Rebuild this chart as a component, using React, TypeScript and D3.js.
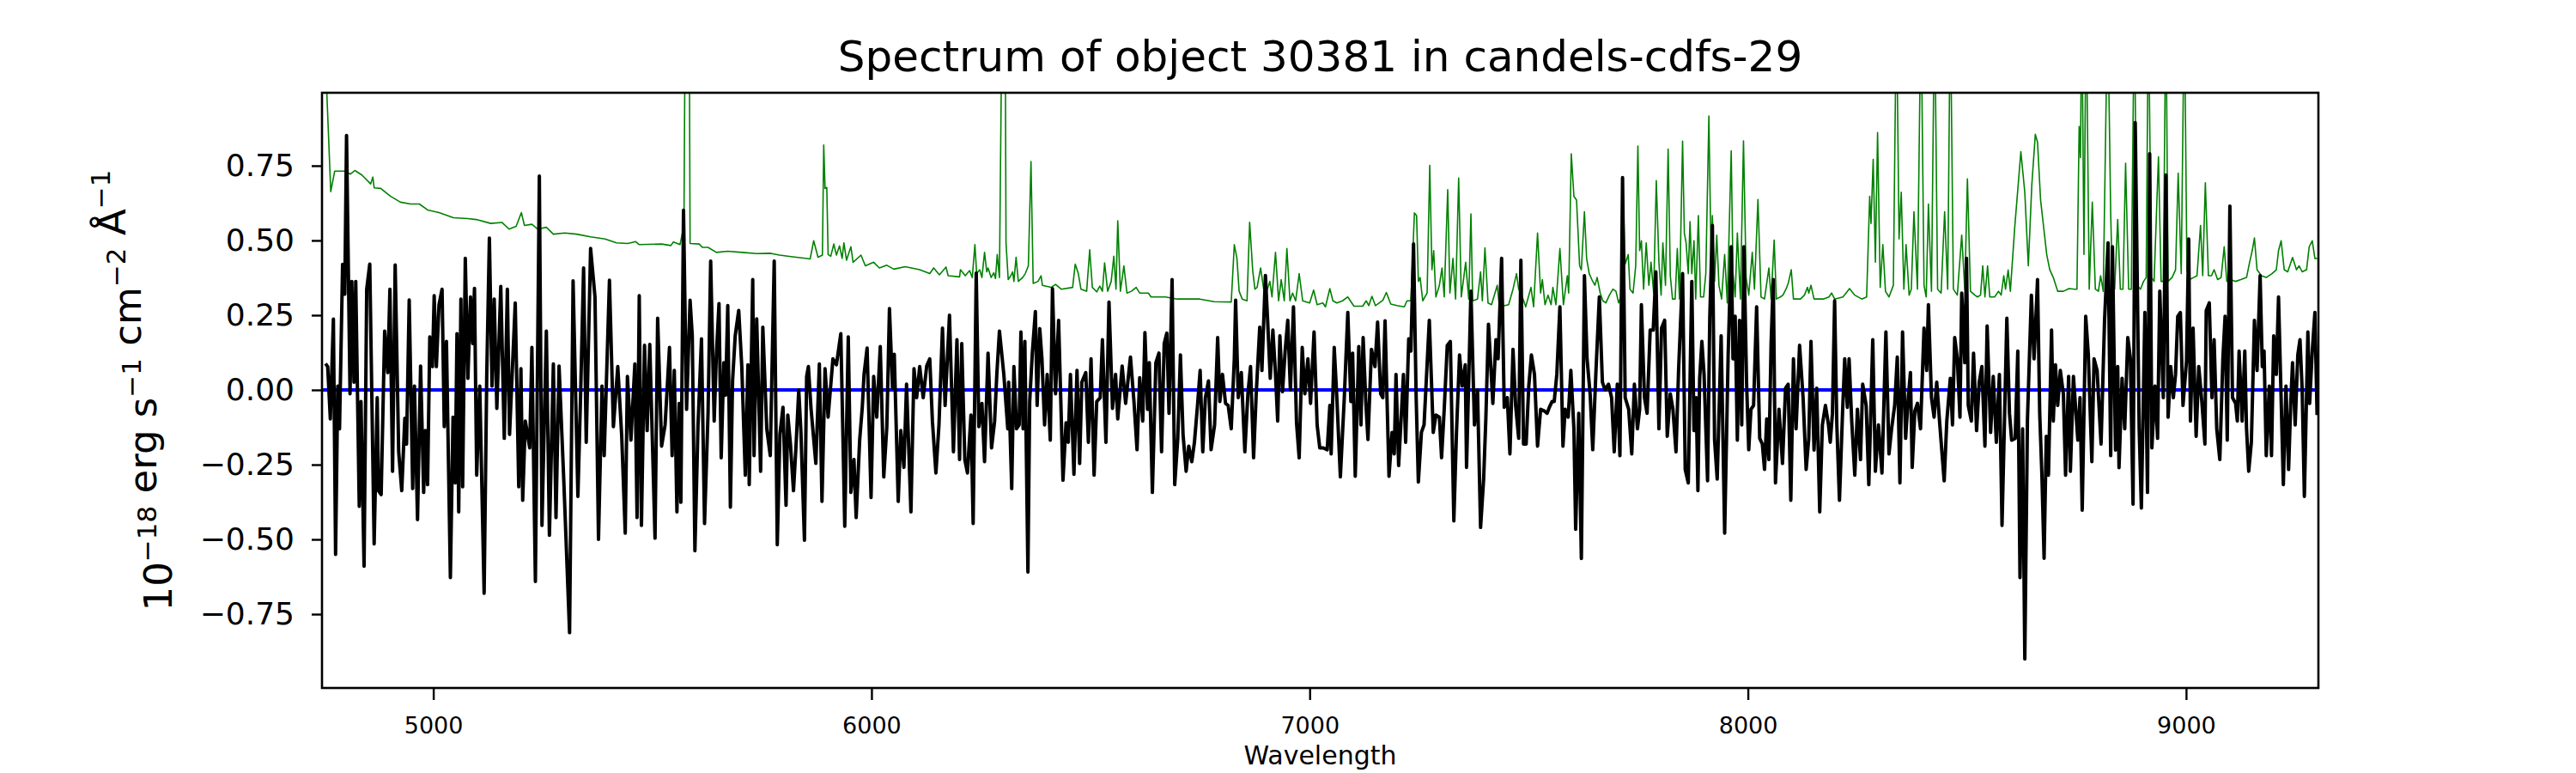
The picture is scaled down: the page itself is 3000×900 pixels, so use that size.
import { useEffect, useRef } from "react";
import * as d3 from "d3";

const TITLE = "Spectrum of object 30381 in candels-cdfs-29";
const X_LABEL = "Wavelength";
const xTicks = [5000, 6000, 7000, 8000, 9000];
const yTicks = [-0.75, -0.5, -0.25, 0, 0.25, 0.5, 0.75];
const xLimits: [number, number] = [4746, 9302];
const yLimits: [number, number] = [-0.997, 0.994];
const zeroLevel = 0;

// observed flux: [wavelength (Å), flux (1e-18 erg/s/cm2/Å)]
const flux: [number, number][] = [
  [4754,0.088],[4759,0.078],[4765,-0.097],[4772,0.237],[4777,-0.55],[4782,0.013],[4786,-0.13],[4793,0.42],
  [4798,0.32],[4802,0.851],[4810,-0.013],[4814,0.363],[4819,0.026],[4823,0.363],[4831,-0.389],[4835,-0.039],
  [4842,-0.59],[4848,0.337],[4855,0.421],[4865,-0.515],[4872,-0.026],[4875,-0.337],[4881,-0.35],[4889,0.197],
  [4896,0.058],[4901,0.337],[4907,-0.272],[4913,0.418],[4921,-0.207],[4928,-0.337],[4935,-0.095],[4939,-0.181],
  [4945,0.301],[4953,-0.33],[4957,0.013],[4964,-0.434],[4971,0.08],[4978,-0.343],[4982,-0.136],[4987,-0.317],
  [4992,0.177],[4998,0.078],[5002,0.315],[5007,0.078],[5013,0.285],[5020,0.337],[5025,-0.123],[5030,0.162],
  [5039,-0.628],[5045,-0.091],[5050,-0.311],[5054,0.188],[5058,-0.408],[5063,0.304],[5067,-0.324],[5073,0.44],
  [5079,0.039],[5085,0.311],[5090,0.155],[5094,0.34],[5099,-0.285],[5106,0.013],[5116,-0.68],[5122,0.052],
  [5128,0.508],[5134,0.013],[5139,0.304],[5145,-0.062],[5154,0.346],[5162,-0.162],[5169,0.337],[5174,-0.149],
  [5187,0.291],[5195,-0.324],[5200,0.071],[5204,-0.369],[5210,-0.104],[5220,-0.194],[5225,0.142],[5233,-0.641],
  [5242,0.715],[5248,-0.453],[5258,0.197],[5265,-0.486],[5274,0.087],[5280,-0.427],[5287,0.08],[5298,-0.311],
  [5311,-0.812],[5319,0.365],[5330,-0.356],[5336,-0.026],[5343,0.408],[5349,-0.175],[5359,0.473],[5369,0.311],
  [5377,-0.5],[5385,0.013],[5390,-0.22],[5402,0.367],[5411,-0.123],[5421,0.078],[5430,-0.155],[5438,-0.479],
  [5443,0.045],[5451,-0.168],[5460,0.087],[5465,-0.427],[5470,0.315],[5475,-0.453],[5482,0.149],[5488,-0.136],
  [5494,0.152],[5506,-0.496],[5512,0.24],[5521,-0.188],[5529,-0.117],[5539,0.142],[5545,-0.22],[5550,0.065],
  [5556,-0.408],[5561,-0.045],[5565,-0.376],[5571,0.601],[5578,-0.065],[5586,0.3],[5591,0.181],[5597,-0.538],
  [5604,-0.123],[5612,0.171],[5619,-0.447],[5627,-0.078],[5633,0.431],[5641,-0.104],[5646,0.117],[5652,0.289],
  [5657,-0.227],[5663,0.091],[5667,-0.017],[5672,0.282],[5678,-0.392],[5683,0.032],[5689,0.181],[5697,0.266],
  [5704,0.078],[5712,-0.285],[5718,0.084],[5721,-0.317],[5729,0.369],[5732,-0.22],[5738,0.238],[5747,-0.272],
  [5752,0.21],[5761,-0.13],[5769,-0.22],[5778,0.431],[5785,-0.518],[5791,-0.149],[5798,-0.058],[5805,-0.386],
  [5809,-0.084],[5815,-0.181],[5822,-0.337],[5828,-0.181],[5834,0],[5839,-0.142],[5847,-0.503],[5852,0.045],
  [5856,0.078],[5862,-0.062],[5873,-0.246],[5881,0.087],[5887,-0.373],[5894,0.071],[5901,-0.091],[5912,0.104],
  [5920,0.084],[5930,0.188],[5939,-0.456],[5947,0.177],[5953,-0.343],[5960,-0.233],[5965,-0.427],[5973,-0.168],
  [5979,-0.058],[5983,0.052],[5990,0.14],[5999,-0.36],[6005,0.045],[6012,-0.091],[6020,0.145],[6028,-0.291],
  [6035,-0.123],[6041,0.272],[6048,0.006],[6052,0.119],[6061,-0.373],[6067,-0.136],[6074,-0.259],[6080,0.019],
  [6090,-0.408],[6097,0.071],[6103,-0.026],[6110,0.078],[6118,-0.026],[6126,0.08],[6133,0.104],[6139,-0.104],
  [6147,-0.278],[6154,-0.117],[6162,0.207],[6168,-0.052],[6178,0.25],[6187,-0.207],[6195,0.168],[6201,-0.233],
  [6206,0.155],[6213,-0.233],[6219,-0.278],[6227,-0.084],[6232,-0.447],[6239,0.391],[6245,-0.123],[6252,-0.045],
  [6258,-0.24],[6266,0.123],[6274,-0.194],[6281,-0.104],[6286,0.052],[6292,0.197],[6302,0.052],[6311,-0.13],
  [6313,0.026],[6320,-0.33],[6325,0.078],[6331,-0.13],[6337,-0.117],[6341,0.194],[6346,-0.13],[6350,0.162],
  [6357,-0.609],[6361,-0.039],[6367,0.123],[6374,0.262],[6378,-0.052],[6384,0.205],[6389,0.104],[6395,-0.117],
  [6401,0.052],[6408,-0.168],[6413,0.339],[6420,-0.013],[6427,0.233],[6437,-0.302],[6444,-0.11],[6449,-0.175],
  [6454,0.052],[6462,-0.282],[6469,0.065],[6475,-0.246],[6480,0.026],[6489,0.058],[6495,-0.175],[6501,0.104],
  [6508,-0.285],[6514,-0.039],[6522,-0.026],[6527,0.168],[6535,-0.175],[6542,0.294],[6550,-0.062],[6557,0.052],
  [6562,-0.097],[6572,0.08],[6580,-0.045],[6586,0.041],[6591,0.11],[6599,-0.039],[6606,-0.2],[6612,0.041],
  [6619,-0.104],[6624,0.192],[6630,-0.065],[6634,0.091],[6641,-0.343],[6649,0.091],[6656,0.123],[6662,-0.207],
  [6668,0.155],[6674,0.19],[6679,-0.078],[6686,0.369],[6692,-0.317],[6699,-0.162],[6705,0.117],[6711,-0.149],
  [6718,-0.272],[6724,-0.188],[6731,-0.24],[6737,-0.175],[6744,-0.052],[6750,0.065],[6756,-0.207],[6762,-0.026],
  [6769,0.03],[6775,-0.2],[6783,-0.117],[6790,0.175],[6795,-0.039],[6801,0.052],[6808,-0.045],[6814,-0.052],
  [6821,-0.13],[6828,0.104],[6831,0.3],[6837,-0.026],[6844,0.058],[6852,-0.207],[6859,-0.013],[6865,0.078],
  [6872,-0.227],[6878,-0.013],[6886,0.21],[6891,0.065],[6899,0.383],[6904,0.233],[6910,0.039],[6916,0.2],
  [6922,0.052],[6927,-0.104],[6932,0.181],[6938,-0.006],[6944,0.13],[6950,0.233],[6956,0],[6963,0.278],
  [6970,-0.11],[6976,-0.227],[6983,0.142],[6989,-0.013],[6996,0.104],[7002,-0.045],[7010,0.194],[7017,-0.117],
  [7023,-0.194],[7031,-0.194],[7040,-0.2],[7046,-0.052],[7049,-0.214],[7056,0.142],[7062,-0.026],[7070,-0.291],
  [7079,-0.026],[7087,0.259],[7094,-0.039],[7098,0.123],[7104,-0.289],[7112,0.145],[7117,-0.117],[7122,0.175],
  [7128,-0.039],[7133,-0.166],[7141,0.136],[7149,0.078],[7155,0.227],[7162,-0.013],[7167,-0.026],[7172,0.231],
  [7181,-0.289],[7188,-0.142],[7193,-0.214],[7197,0.052],[7203,-0.253],[7207,-0.142],[7214,0.052],[7219,-0.175],
  [7226,0.171],[7231,0.13],[7237,0.488],[7243,-0.026],[7248,-0.308],[7255,-0.142],[7261,-0.117],[7273,0.233],
  [7282,-0.142],[7288,-0.084],[7296,-0.091],[7301,-0.227],[7307,-0.065],[7314,0.149],[7321,0.162],[7329,-0.438],
  [7335,-0.142],[7342,0.117],[7348,0.013],[7355,0.084],[7358,-0.259],[7368,0.33],[7376,-0.117],[7383,0],
  [7390,-0.46],[7397,-0.298],[7402,-0.097],[7408,0.22],[7418,-0.045],[7425,0.168],[7430,0.104],[7438,0.44],
  [7444,-0.058],[7451,-0.026],[7457,-0.214],[7464,0.136],[7470,-0.052],[7477,-0.162],[7482,0.434],[7488,-0.181],
  [7494,-0.181],[7500,0.013],[7506,0.117],[7513,0.052],[7520,-0.188],[7527,-0.065],[7536,-0.071],[7542,-0.078],
  [7547,-0.058],[7553,-0.039],[7558,-0.039],[7564,0.052],[7571,0.278],[7578,-0.188],[7583,-0.065],[7590,-0.091],
  [7596,0.065],[7603,-0.13],[7607,-0.466],[7614,-0.078],[7620,-0.564],[7627,0.382],[7633,0.104],[7640,-0.013],
  [7646,-0.2],[7653,0.052],[7661,0.311],[7668,0.026],[7674,0],[7682,0.019],[7689,-0.026],[7695,-0.207],
  [7702,0.019],[7708,-0.22],[7714,0.71],[7720,-0.026],[7728,-0.065],[7735,-0.214],[7741,0.019],[7748,-0.13],
  [7753,-0.065],[7757,0.285],[7764,-0.026],[7770,-0.078],[7777,0.2],[7784,0.2],[7790,0.395],[7797,-0.13],
  [7803,0.207],[7810,0.233],[7816,-0.155],[7823,-0.013],[7829,-0.065],[7836,-0.207],[7842,0.071],[7851,0.389],
  [7857,-0.266],[7864,-0.311],[7872,0.363],[7877,-0.136],[7882,-0.026],[7886,-0.337],[7890,0.039],[7895,0.162],
  [7900,0.052],[7908,-0.304],[7913,0.24],[7919,0.55],[7924,-0.168],[7930,-0.298],[7939,0.181],[7947,-0.479],
  [7955,0.117],[7962,0.479],[7966,0.104],[7971,0.246],[7976,-0.168],[7981,0.233],[7986,-0.117],[7991,0.479],
  [7997,0.026],[8002,-0.2],[8007,-0.065],[8013,-0.052],[8020,0.278],[8027,-0.162],[8033,-0.181],[8038,-0.266],
  [8043,-0.097],[8048,-0.233],[8053,0.155],[8058,0.369],[8063,-0.311],[8071,-0.065],[8079,-0.246],[8086,0.006],
  [8092,0.019],[8098,-0.369],[8104,0.104],[8110,-0.13],[8118,0.149],[8126,-0.026],[8133,-0.266],[8139,-0.162],
  [8144,0.162],[8151,-0.201],[8157,0.006],[8164,-0.408],[8170,-0.117],[8177,-0.052],[8184,-0.117],[8188,-0.175],
  [8193,-0.078],[8198,0.298],[8203,-0.117],[8209,-0.369],[8216,-0.078],[8221,0.104],[8227,-0.058],[8231,0.104],
  [8237,-0.104],[8244,-0.285],[8250,-0.065],[8257,-0.233],[8262,0.019],[8270,-0.052],[8276,-0.317],[8285,0.168],
  [8291,-0.272],[8298,-0.117],[8306,-0.278],[8315,0.194],[8322,-0.214],[8328,-0.13],[8335,-0.052],[8341,0.11],
  [8347,-0.311],[8353,0.194],[8360,-0.162],[8366,-0.026],[8371,0.058],[8375,-0.259],[8381,-0.071],[8387,-0.045],
  [8394,-0.13],[8402,0.207],[8408,0.065],[8412,0.285],[8419,-0.026],[8425,-0.091],[8431,0.026],[8438,-0.117],
  [8448,-0.304],[8454,-0.104],[8462,0.039],[8467,-0.117],[8472,0.175],[8478,0.104],[8484,-0.091],[8488,0.324],
  [8495,0.091],[8499,0.44],[8503,-0.052],[8510,-0.104],[8515,0.123],[8522,-0.136],[8528,0.026],[8534,0.078],
  [8541,-0.188],[8546,0.214],[8554,-0.142],[8560,0.045],[8567,-0.175],[8574,0.052],[8580,-0.453],[8586,-0.078],
  [8591,0.24],[8597,-0.078],[8602,-0.168],[8610,-0.162],[8616,0.13],[8621,-0.628],[8627,-0.13],[8632,-0.9],
  [8638,-0.1],[8647,0.317],[8653,0.104],[8656,0.194],[8661,0.369],[8666,-0.078],[8671,-0.285],[8676,-0.563],
  [8681,-0.155],[8686,-0.285],[8693,0.2],[8697,-0.104],[8702,0.084],[8707,-0.052],[8713,0.065],[8720,-0.013],
  [8725,-0.285],[8732,0.045],[8736,-0.272],[8743,0.045],[8753,-0.168],[8758,-0.026],[8763,-0.402],[8771,0.246],
  [8777,0.117],[8785,-0.24],[8790,0.104],[8797,0.065],[8806,-0.181],[8814,0.233],[8822,0.492],[8828,-0.22],
  [8832,0.479],[8839,-0.201],[8844,0.078],[8847,-0.26],[8854,0.039],[8860,-0.13],[8867,0.175],[8873,0.104],
  [8879,-0.382],[8884,0.894],[8893,-0.13],[8898,-0.395],[8906,0.259],[8912,-0.343],[8917,0.79],[8922,-0.194],
  [8929,0.013],[8935,-0.162],[8940,0.33],[8948,-0.026],[8954,0.719],[8959,-0.091],[8965,0.078],[8971,-0.026],
  [8976,0.052],[8981,0.246],[8987,0.259],[8993,-0.052],[9001,0.097],[9006,0.505],[9010,-0.104],[9016,0.207],
  [9023,-0.155],[9029,0.078],[9036,-0.039],[9043,-0.181],[9046,0.265],[9053,0.291],[9059,-0.026],[9064,0.168],
  [9070,-0.13],[9077,-0.233],[9084,0.104],[9089,0.246],[9094,-0.168],[9100,0.615],[9106,-0.026],[9113,-0.045],
  [9117,-0.104],[9121,0.13],[9128,-0.104],[9134,0.13],[9138,-0.13],[9143,-0.272],[9149,-0.175],[9156,0.233],
  [9162,0.065],[9169,0.382],[9174,0.078],[9178,0.13],[9183,-0.22],[9190,0.013],[9195,-0.22],[9200,0.181],
  [9206,0.052],[9211,0.311],[9216,0.026],[9222,-0.317],[9228,0.013],[9234,-0.266],[9239,-0.039],[9243,0.091],
  [9249,-0.117],[9255,0.117],[9260,0.168],[9265,0],[9270,-0.356],[9278,0.194],[9282,-0.045],[9288,0.13],
  [9294,0.259],[9299,-0.084],
];

// model spectrum (green)
const model: [number, number][] = [
  [4750,1.25],[4766,0.663],[4775,0.732],[4798,0.732],[4811,0.722],[4821,0.734],[4837,0.719],[4857,0.689],
  [4862,0.712],[4865,0.676],[4880,0.674],[4902,0.648],[4925,0.628],[4948,0.622],[4968,0.622],[4987,0.602],
  [5013,0.593],[5046,0.576],[5079,0.573],[5098,0.57],[5131,0.557],[5157,0.56],[5173,0.538],[5189,0.547],
  [5201,0.593],[5208,0.55],[5225,0.554],[5238,0.538],[5258,0.544],[5274,0.521],[5300,0.525],[5327,0.521],
  [5359,0.512],[5392,0.505],[5418,0.492],[5444,0.49],[5462,0.496],[5470,0.486],[5521,0.488],[5542,0.483],
  [5548,0.495],[5563,0.486],[5572,0.55],[5575,1.3],[5584,1.3],[5586,0.49],[5607,0.488],[5614,0.477],
  [5627,0.477],[5646,0.46],[5672,0.464],[5705,0.46],[5738,0.456],[5770,0.457],[5790,0.451],[5816,0.446],
  [5849,0.44],[5860,0.438],[5868,0.499],[5878,0.444],[5888,0.451],[5891,0.819],[5894,0.674],[5898,0.677],
  [5901,0.453],[5907,0.447],[5914,0.488],[5920,0.451],[5927,0.482],[5933,0.44],[5937,0.492],[5943,0.434],
  [5953,0.479],[5958,0.427],[5976,0.451],[5986,0.415],[6005,0.427],[6018,0.408],[6035,0.417],[6051,0.404],
  [6077,0.412],[6110,0.402],[6133,0.389],[6142,0.408],[6155,0.385],[6170,0.411],[6175,0.382],[6201,0.378],
  [6203,0.402],[6214,0.382],[6224,0.399],[6230,0.376],[6236,0.486],[6240,0.389],[6247,0.402],[6252,0.376],
  [6258,0.46],[6263,0.395],[6266,0.408],[6273,0.376],[6279,0.392],[6283,0.373],[6287,0.453],[6292,0.376],
  [6298,1.3],[6305,1.3],[6307,0.492],[6312,0.369],[6318,0.382],[6322,0.395],[6325,0.363],[6330,0.444],
  [6335,0.363],[6345,0.376],[6351,0.389],[6358,0.415],[6364,0.764],[6369,0.356],[6380,0.363],[6387,0.382],
  [6390,0.35],[6410,0.343],[6420,0.353],[6433,0.337],[6459,0.343],[6465,0.421],[6472,0.389],[6478,0.337],
  [6491,0.33],[6498,0.469],[6504,0.343],[6514,0.328],[6521,0.347],[6527,0.33],[6532,0.425],[6539,0.33],
  [6547,0.363],[6553,0.447],[6558,0.337],[6562,0.566],[6568,0.33],[6576,0.415],[6583,0.324],[6593,0.33],
  [6604,0.343],[6612,0.324],[6632,0.324],[6638,0.311],[6671,0.311],[6697,0.304],[6723,0.304],[6749,0.304],
  [6782,0.295],[6821,0.294],[6828,0.486],[6834,0.44],[6839,0.33],[6846,0.304],[6857,0.298],[6863,0.561],
  [6870,0.399],[6875,0.337],[6880,0.343],[6888,0.408],[6895,0.337],[6902,0.33],[6909,0.363],[6914,0.311],
  [6922,0.46],[6929,0.298],[6935,0.369],[6942,0.298],[6948,0.473],[6955,0.298],[6961,0.324],[6968,0.298],
  [6976,0.389],[6984,0.298],[7000,0.291],[7009,0.334],[7017,0.285],[7030,0.291],[7036,0.278],[7046,0.339],
  [7053,0.298],[7062,0.291],[7075,0.298],[7087,0.311],[7101,0.28],[7121,0.28],[7129,0.298],[7135,0.282],
  [7142,0.313],[7150,0.282],[7167,0.3],[7175,0.326],[7185,0.287],[7199,0.282],[7216,0.278],[7222,0.298],
  [7231,0.298],[7239,0.592],[7244,0.583],[7248,0.363],[7252,0.376],[7258,0.298],[7268,0.324],[7274,0.751],
  [7279,0.402],[7283,0.466],[7288,0.311],[7296,0.35],[7302,0.408],[7307,0.311],[7315,0.67],[7320,0.324],
  [7327,0.44],[7333,0.304],[7340,0.709],[7346,0.311],[7356,0.427],[7363,0.304],[7368,0.589],[7372,0.298],
  [7383,0.304],[7390,0.395],[7394,0.298],[7400,0.475],[7407,0.291],[7415,0.285],[7428,0.35],[7433,0.278],
  [7454,0.285],[7464,0.337],[7472,0.389],[7477,0.337],[7487,0.304],[7493,0.278],[7505,0.343],[7511,0.278],
  [7520,0.525],[7527,0.324],[7531,0.369],[7537,0.285],[7544,0.317],[7551,0.285],[7555,0.343],[7562,0.285],
  [7571,0.473],[7579,0.285],[7588,0.382],[7591,0.324],[7597,0.79],[7603,0.648],[7609,0.635],[7616,0.415],
  [7620,0.402],[7627,0.596],[7632,0.44],[7638,0.389],[7644,0.369],[7651,0.35],[7656,0.376],[7663,0.324],
  [7669,0.298],[7676,0.291],[7684,0.317],[7692,0.337],[7699,0.33],[7705,0.291],[7710,0.311],[7715,0.661],
  [7720,0.421],[7727,0.453],[7731,0.337],[7738,0.324],[7744,0.415],[7749,0.816],[7753,0.466],[7757,0.499],
  [7762,0.337],[7768,0.492],[7774,0.35],[7779,0.427],[7785,0.324],[7791,0.7],[7797,0.427],[7802,0.317],
  [7806,0.492],[7812,0.35],[7818,0.806],[7823,0.382],[7828,0.304],[7834,0.304],[7839,0.473],[7844,0.304],
  [7851,0.832],[7855,0.525],[7859,0.492],[7864,0.389],[7868,0.563],[7872,0.389],[7877,0.499],[7881,0.304],
  [7887,0.583],[7892,0.311],[7899,0.311],[7904,0.389],[7911,0.916],[7916,0.44],[7919,0.583],[7924,0.363],
  [7929,0.518],[7934,0.35],[7940,0.304],[7947,0.453],[7953,0.291],[7962,0.8],[7966,0.395],[7971,0.311],
  [7976,0.525],[7983,0.304],[7990,0.833],[7996,0.376],[8002,0.317],[8010,0.46],[8015,0.337],[8023,0.637],
  [8030,0.311],[8038,0.304],[8048,0.408],[8053,0.304],[8060,0.501],[8065,0.304],[8074,0.311],[8080,0.317],
  [8087,0.337],[8092,0.356],[8099,0.402],[8104,0.304],[8120,0.304],[8129,0.317],[8136,0.343],[8139,0.324],
  [8144,0.35],[8151,0.304],[8172,0.304],[8185,0.311],[8191,0.324],[8198,0.304],[8217,0.311],[8232,0.339],
  [8244,0.317],[8260,0.304],[8271,0.311],[8278,0.648],[8281,0.557],[8286,0.771],[8291,0.427],[8296,0.861],
  [8302,0.343],[8308,0.486],[8314,0.33],[8322,0.311],[8332,0.35],[8339,1.3],[8345,0.505],[8350,0.661],
  [8356,0.337],[8361,0.486],[8368,0.317],[8373,0.337],[8379,0.596],[8387,0.337],[8395,1.3],[8402,0.35],
  [8407,0.311],[8412,0.622],[8419,0.33],[8426,1.3],[8433,0.337],[8441,0.324],[8449,0.596],[8456,0.337],
  [8462,1.3],[8469,0.337],[8478,0.317],[8488,0.518],[8495,0.337],[8501,0.706],[8508,0.33],[8518,0.317],
  [8524,0.311],[8531,0.317],[8536,0.415],[8541,0.311],[8547,0.415],[8552,0.311],[8563,0.311],[8572,0.33],
  [8578,0.317],[8584,0.382],[8588,0.337],[8594,0.401],[8599,0.33],[8609,0.544],[8623,0.797],[8632,0.66],
  [8640,0.415],[8648,0.686],[8656,0.855],[8661,0.829],[8668,0.635],[8676,0.531],[8682,0.453],[8689,0.402],
  [8697,0.376],[8707,0.33],[8720,0.33],[8733,0.339],[8746,0.337],[8751,0.337],[8756,0.881],[8759,0.777],
  [8762,1.3],[8767,0.453],[8772,1.3],[8779,0.337],[8786,0.628],[8793,0.337],[8800,0.33],[8805,0.382],
  [8811,0.33],[8821,1.3],[8828,0.589],[8832,0.35],[8837,0.337],[8844,0.57],[8850,0.337],[8856,0.337],
  [8862,0.758],[8869,0.337],[8875,0.337],[8882,1.3],[8888,0.35],[8896,0.337],[8903,0.363],[8909,0.376],
  [8914,1.3],[8921,0.376],[8927,0.363],[8937,0.78],[8943,0.363],[8948,0.363],[8954,1.3],[8959,0.363],
  [8968,0.376],[8976,0.402],[8982,0.725],[8989,0.389],[8996,1.3],[9002,0.402],[9008,0.369],[9017,0.376],
  [9025,0.382],[9033,0.55],[9038,0.382],[9044,0.693],[9051,0.382],[9058,0.382],[9064,0.402],[9072,0.369],
  [9080,0.376],[9087,0.479],[9093,0.363],[9102,0.369],[9113,0.363],[9125,0.369],[9138,0.376],[9145,0.427],
  [9151,0.466],[9156,0.508],[9162,0.402],[9172,0.382],[9183,0.376],[9196,0.389],[9206,0.402],[9211,0.466],
  [9217,0.499],[9224,0.402],[9232,0.395],[9243,0.443],[9252,0.402],[9258,0.415],[9265,0.395],[9275,0.402],
  [9281,0.479],[9288,0.499],[9294,0.44],[9299,0.44],
];

const FONT = "'DejaVu Sans', sans-serif";

export default function App() {
  const svgRef = useRef<SVGSVGElement>(null);
  const W = 3000;
  const H = 900;

  useEffect(() => {
    if (!svgRef.current) return;
    const svg = d3.select(svgRef.current);
    svg.selectAll("*").remove();

    const m = { top: 108, right: 300, bottom: 99, left: 375 };
    const x = d3.scaleLinear().domain(xLimits).range([m.left, W - m.right]);
    const y = d3.scaleLinear().domain(yLimits).range([H - m.bottom, m.top]);

    svg.append("rect").attr("width", W).attr("height", H).attr("fill", "#fff");

    svg.append("clipPath").attr("id", "plot-area")
      .append("rect")
      .attr("x", m.left).attr("y", m.top)
      .attr("width", W - m.left - m.right).attr("height", H - m.top - m.bottom);

    const line = d3.line<[number, number]>().x((d) => x(d[0])).y((d) => y(d[1]));
    const lines = svg.append("g").attr("clip-path", "url(#plot-area)");

    lines.append("path").datum(model)
      .attr("d", line).attr("fill", "none")
      .attr("stroke", "#008000").attr("stroke-width", 1.6).attr("stroke-linejoin", "round");

    lines.append("line")
      .attr("x1", x(xLimits[0])).attr("x2", x(xLimits[1]))
      .attr("y1", y(zeroLevel)).attr("y2", y(zeroLevel))
      .attr("stroke", "#0000ff").attr("stroke-width", 4);

    lines.append("path").datum(flux)
      .attr("d", line).attr("fill", "none")
      .attr("stroke", "#000").attr("stroke-width", 4).attr("stroke-linejoin", "round");

    // axes
    const gx = svg.append("g").attr("transform", `translate(0,${H - m.bottom})`)
      .call(d3.axisBottom(x).tickValues(xTicks).tickFormat(d3.format("d")).tickSize(14).tickPadding(20));
    gx.select(".domain").remove();
    gx.selectAll("line").attr("stroke", "#000").attr("stroke-width", 2.4);
    gx.selectAll("text").attr("font-family", FONT).attr("font-size", 27).attr("fill", "#000");

    const gy = svg.append("g").attr("transform", `translate(${m.left},0)`)
      .call(d3.axisLeft(y).tickValues(yTicks).tickFormat(d3.format(".2f")).tickSize(12).tickPadding(20));
    gy.select(".domain").remove();
    gy.selectAll("line").attr("stroke", "#000").attr("stroke-width", 2.4);
    gy.selectAll("text").attr("font-family", FONT).attr("font-size", 36).attr("fill", "#000");

    svg.append("rect")
      .attr("x", m.left).attr("y", m.top)
      .attr("width", W - m.left - m.right).attr("height", H - m.top - m.bottom)
      .attr("fill", "none").attr("stroke", "#000").attr("stroke-width", 2.6);

    svg.append("text")
      .attr("x", (m.left + W - m.right) / 2).attr("y", 83)
      .attr("text-anchor", "middle").attr("font-family", FONT).attr("font-size", 50)
      .text(TITLE);

    svg.append("text")
      .attr("x", (m.left + W - m.right) / 2).attr("y", 890)
      .attr("text-anchor", "middle").attr("font-family", FONT).attr("font-size", 30)
      .text(X_LABEL);

    // y label with superscripts
    const yl = svg.append("text")
      .attr("transform", `translate(200,${(m.top + H - m.bottom) / 2}) rotate(-90)`)
      .attr("text-anchor", "middle").attr("font-family", FONT).attr("font-size", 45);
    const parts: [string, string][] = [["10", "−18"], [" erg s", "−1"], [" cm", "−2"], [" Å", "−1"]];
    parts.forEach(([base, sup]) => {
      yl.append("tspan").attr("dy", 0).text(base);
      yl.append("tspan").attr("dy", -18).attr("font-size", 31).text(sup);
      yl.append("tspan").attr("dy", 18).attr("font-size", 45).text("");
    });
  }, []);

  return (
    <svg
      ref={svgRef}
      width={W}
      height={H}
      viewBox={`0 0 ${W} ${H}`}
      style={{ position: "absolute", left: 0, top: 0, display: "block" }}
    />
  );
}
